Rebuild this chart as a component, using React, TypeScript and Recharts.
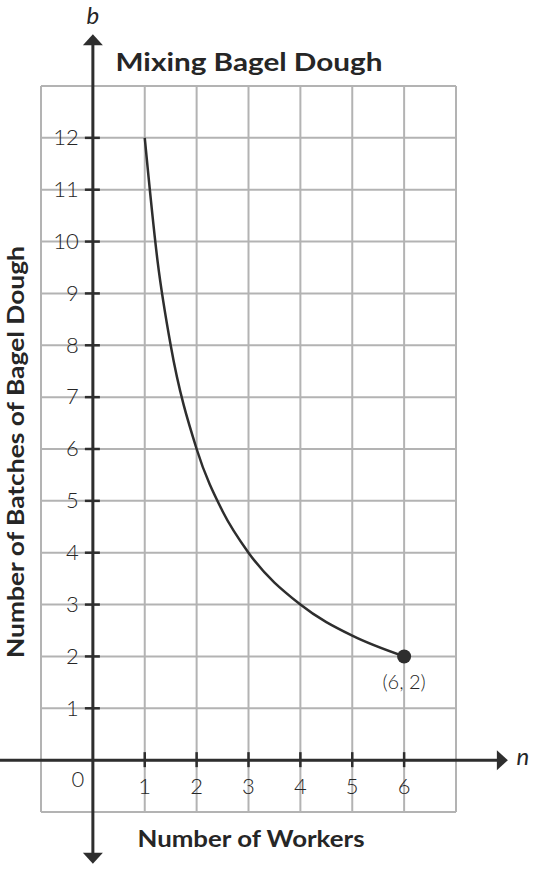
import React from 'react';
import { LineChart, Line, XAxis, YAxis, CartesianGrid, ReferenceLine, ReferenceDot, Customized } from 'recharts';

// b = batches, n = workers
const workers = [1, 1.25, 1.5, 2, 2.5, 3, 4, 5, 6];
const batches = [12, 9.6, 8, 6, 4.8, 4, 3, 2.4, 2];

const xTicks = [1, 2, 3, 4, 5, 6];
const yTicks = [1, 2, 3, 4, 5, 6, 7, 8, 9, 10, 11, 12];
const gridX = [-1, 0, 1, 2, 3, 4, 5, 6, 7];
const gridY = [-1, 0, 1, 2, 3, 4, 5, 6, 7, 8, 9, 10, 11, 12, 13];

const endPoint = { n: 6, b: 2, label: '(6, 2)' };

const data = workers.map((n, i) => ({ n, b: batches[i] }));

const INK = '#2e2e2e';
const TEXT = '#262626';
const FONT = 'Lato, "DejaVu Sans", sans-serif';

const NoTick = () => <g />;

const YTick = (props: any) => {
  const { cx, cy, value } = props;
  return (
    <g>
      <line x1={cx - 8} x2={cx + 7} y1={cy} y2={cy} stroke={INK} strokeWidth={2.5} />
      <text x={cx - 14} y={cy} dy="0.33em" textAnchor="end" fontSize={22} fontWeight={300} fill={TEXT} fontFamily={FONT}>
        {value}
      </text>
    </g>
  );
};

const XTick = (props: any) => {
  const { cx, cy, value } = props;
  return (
    <g>
      <line x1={cx} x2={cx} y1={cy - 8} y2={cy + 7} stroke={INK} strokeWidth={2.5} />
      <text x={cx} y={cy + 34} textAnchor="middle" fontSize={22} fontWeight={300} fill={TEXT} fontFamily={FONT}>
        {value}
      </text>
    </g>
  );
};

const Origin = (props: any) => {
  const { cx, cy } = props;
  return (
    <text x={cx - 15} y={cy + 27} textAnchor="middle" fontSize={22} fontWeight={300} fill={TEXT} fontFamily={FONT}>
      0
    </text>
  );
};

const ArrowUp = (props: any) => {
  const { cx, cy } = props;
  return (
    <g>
      <polygon points={`${cx},${cy} ${cx - 10},${cy + 11} ${cx + 10},${cy + 11}`} fill={INK} />
      <text x={cx} y={cy - 10} textAnchor="middle" fontSize={24} fontStyle="italic" fill={TEXT} fontFamily={FONT}>
        b
      </text>
    </g>
  );
};

const ArrowDown = (props: any) => {
  const { cx, cy } = props;
  return <polygon points={`${cx},${cy} ${cx - 10},${cy - 11} ${cx + 10},${cy - 11}`} fill={INK} />;
};

const ArrowRight = (props: any) => {
  const { cx, cy } = props;
  return (
    <g>
      <polygon points={`${cx},${cy} ${cx - 11},${cy - 10} ${cx - 11},${cy + 10}`} fill={INK} />
      <text x={cx + 15} y={cy + 5} textAnchor="middle" fontSize={24} fontStyle="italic" fill={TEXT} fontFamily={FONT}>
        n
      </text>
    </g>
  );
};

const EndDot = (props: any) => {
  const { cx, cy } = props;
  return (
    <g>
      <circle cx={cx} cy={cy} r={7} fill={INK} />
      <text x={cx} y={cy + 33} textAnchor="middle" fontSize={20} fontWeight={300} fill={TEXT} fontFamily={FONT}>
        {endPoint.label}
      </text>
    </g>
  );
};

const Titles = () => (
  <g fontFamily={FONT} fontWeight="bold" fill={TEXT}>
    <text x={249} y={71} textAnchor="middle" fontSize={25} textLength={267} lengthAdjust="spacingAndGlyphs">
      Mixing Bagel Dough
    </text>
    <text transform="translate(24,452) rotate(-90)" textAnchor="middle" fontSize={22} textLength={412} lengthAdjust="spacingAndGlyphs">
      Number of Batches of Bagel Dough
    </text>
    <text x={251} y={847} textAnchor="middle" fontSize={22} textLength={227} lengthAdjust="spacingAndGlyphs">
      Number of Workers
    </text>
  </g>
);

export default function App() {
  return (
    <div style={{ position: 'absolute', left: 0, top: 0, background: '#fff' }}>
      <LineChart width={536} height={870} data={data} margin={{ top: 86, right: 80, bottom: 58, left: 41 }}>
        <CartesianGrid stroke="#b3b3b3" strokeWidth={2} />
        <XAxis
          type="number"
          dataKey="n"
          domain={[-1, 7]}
          ticks={gridX}
          interval={0}
          allowDataOverflow
          height={0}
          axisLine={false}
          tickLine={false}
          tick={<NoTick />}
        />
        <YAxis
          type="number"
          domain={[-1, 13]}
          ticks={gridY}
          interval={0}
          allowDataOverflow
          width={0}
          axisLine={false}
          tickLine={false}
          tick={<NoTick />}
        />
        <ReferenceLine segment={[{ x: 0, y: -1.82 }, { x: 0, y: 13.83 }]} stroke={INK} strokeWidth={3} ifOverflow="visible" />
        <ReferenceLine segment={[{ x: -1.8, y: 0 }, { x: 7.8, y: 0 }]} stroke={INK} strokeWidth={3} ifOverflow="visible" />
        <ReferenceDot x={0} y={14} ifOverflow="visible" shape={ArrowUp} />
        <ReferenceDot x={0} y={-2} ifOverflow="visible" shape={ArrowDown} />
        <ReferenceDot x={8} y={0} ifOverflow="visible" shape={ArrowRight} />
        <ReferenceDot x={0} y={0} ifOverflow="visible" shape={Origin} />
        {yTicks.map((v) => (
          <ReferenceDot key={`y${v}`} x={0} y={v} ifOverflow="visible" shape={(p: any) => <YTick {...p} value={v} />} />
        ))}
        {xTicks.map((v) => (
          <ReferenceDot key={`x${v}`} x={v} y={0} ifOverflow="visible" shape={(p: any) => <XTick {...p} value={v} />} />
        ))}
        <Line type="monotone" dataKey="b" stroke={INK} strokeWidth={2.5} dot={false} isAnimationActive={false} />
        <ReferenceDot x={endPoint.n} y={endPoint.b} ifOverflow="visible" shape={EndDot} />
        <Customized component={Titles} />
      </LineChart>
    </div>
  );
}
